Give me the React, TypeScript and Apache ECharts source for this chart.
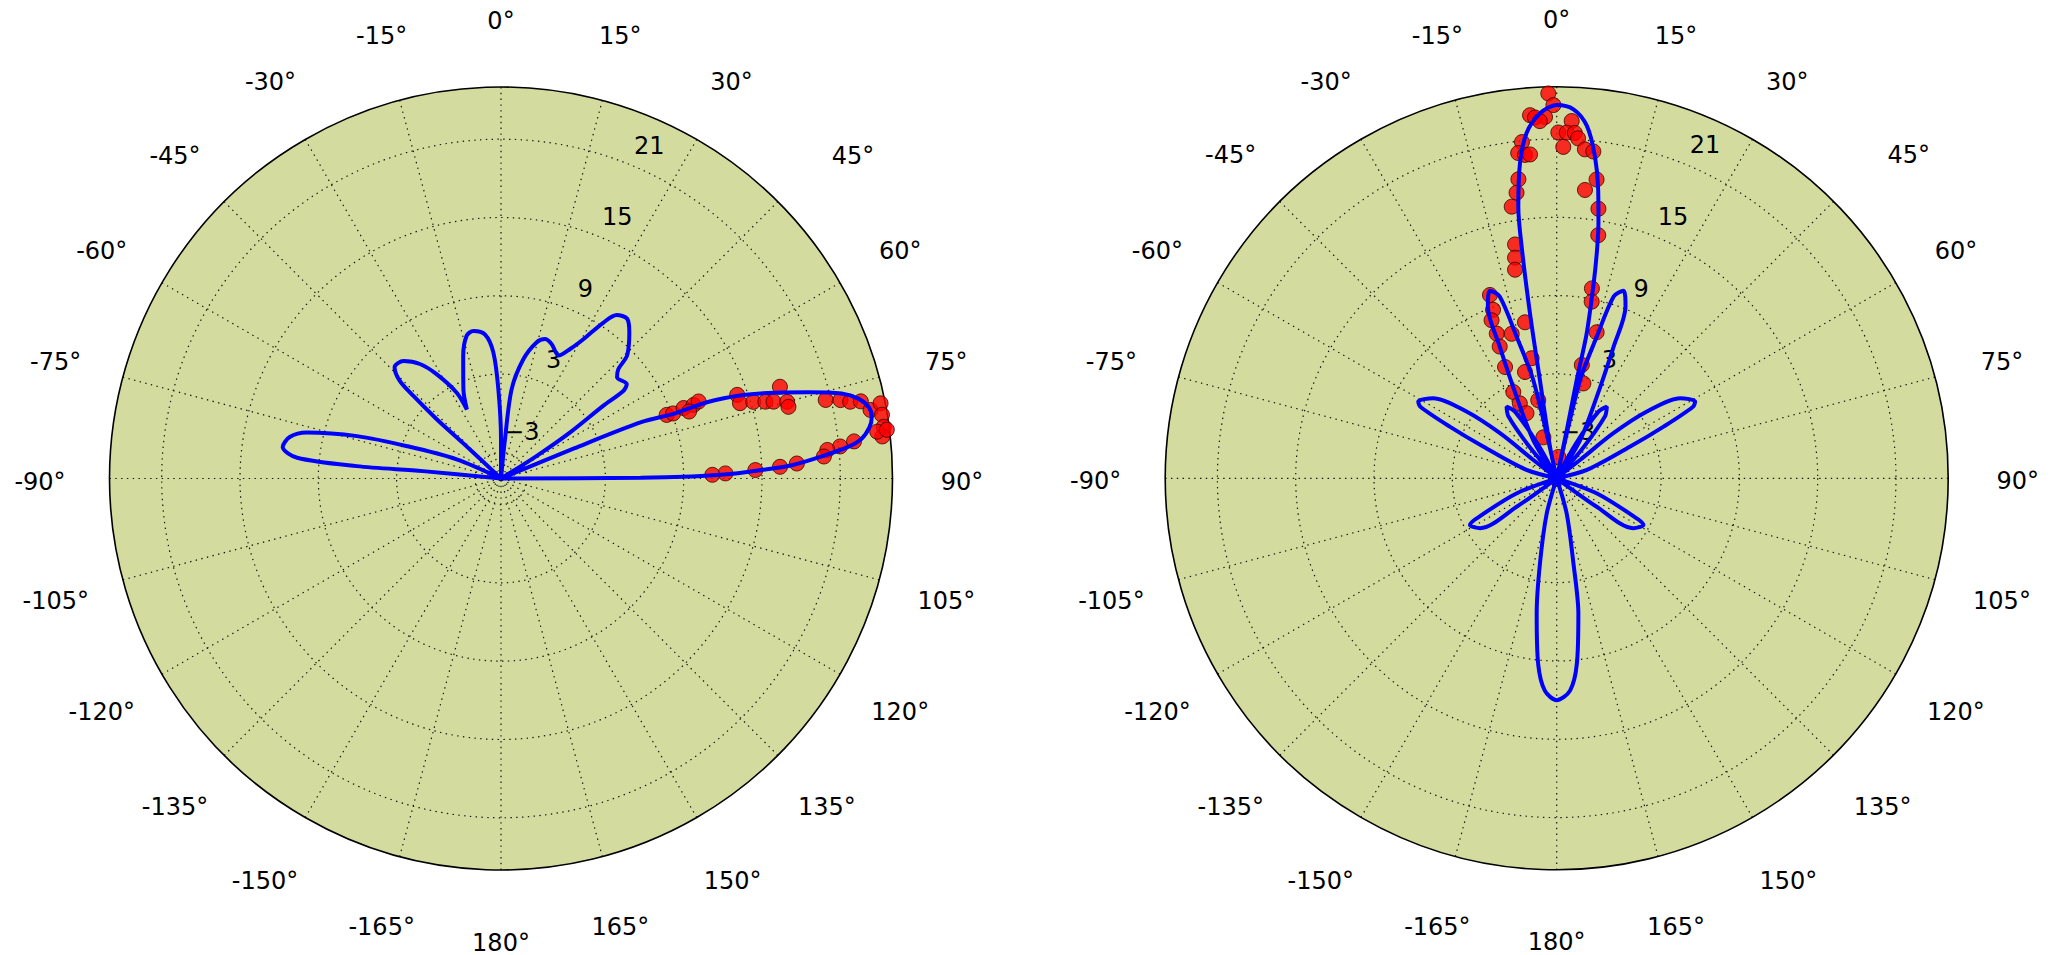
import React, { useEffect, useRef } from "react";
import * as echarts from "echarts";

// Each lobe: [angle in degrees clockwise from north, level], from null to null
const leftLobeWest: [number, number][] = [
  [-90, -5], [-84.6, 1.0], [-85.1, 6.1], [-84.2, 10.7], [-81.8, 11.9], [-78.9, 11.5], [-76.7, 10.3], [-73.6, 6.5], [-71.0, 2.6], [-66.6, -1.3], [-60, -5],
];
const leftLobeNorthWest: [number, number][] = [
  [-60, -5], [-47.0, -1.0], [-47.3, 1.7], [-46.7, 4.25], [-46.0, 5.8], [-43.7, 6.8], [-39.7, 6.7], [-35.3, 5.75], [-31.7, 4.4], [-27.3, 2.4], [-26.3, 0.9],
  [-22.9, 2.4], [-17.1, 4.85], [-13.5, 6.26], [-10.6, 6.5], [-6.3, 6.1], [-3.5, 4.7], [-1.7, 1.85], [0, -2.0], [3, -5],
];
const leftLobeNorthEast: [number, number][] = [
  [3, -5], [5.8, -2.0], [6.8, 1.9], [10.6, 4.3], [14.7, 5.8], [17.5, 6.2], [20.7, 6.0], [25.1, 5.4], [28.1, 6.25], [30.6, 7.4], [33.3, 9.3], [35.3, 10.35], [38.3, 10.6], [41.3, 9.9], [45.7, 8.5], [47.0, 7.3], [48.9, 6.8], [53.1, 7.05], [54.4, 6.55], [54.6, 4.6], [56.3, 1.4], [57.7, -1.75], [62, -5],
];
const leftLobeMain: [number, number][] = [
  [62, -5], [67.6, 1.06], [68.1, 6.58], [69.5, 9.2], [69.7, 11.9], [70.9, 14.5], [72.6, 17.0], [74.3, 19.45], [76.0, 21.9], [77.4, 23.05], [79.0, 23.7], [80.6, 23.8], [82.1, 23.5], [83.7, 22.8], [84.8, 21.7], [85.9, 19.9], [87.4, 17.3], [88.2, 14.7], [89.0, 12.1], [89.4, 9.6], [89.7, 5.7], [90, -5],
];

const leftMeasured: [number, number][] = [
  [69.0, 8.6], [69.3, 9.1], [68.9, 10.0], [69.1, 10.8], [68.7, 11.25], [70.4, 10.3], [70.5, 14.2], [72.5, 14.2], [73.1, 15.2], [73.8, 16.1], [74.25, 16.7], [71.8, 17.5], [75.0, 17.7], [76.0, 17.7], [76.4, 20.6], [77.0, 21.7], [77.6, 22.4], [77.9, 23.2], [79.5, 23.8], [78.8, 24.65], [80.5, 24.6], [82.3, 24.6], [83.7, 24.4], [82.9, 24.05], [82.8, 24.8],
  [84.0, 22.2], [84.6, 21.1], [85.0, 20.1], [86.1, 19.8], [87.1, 17.7], [87.6, 16.4], [88.1, 14.5], [88.7, 12.2], [89.0, 11.2],
];

const rightLobeSouth: [number, number][] = [
  [-150, -5], [-164.2, -2.2], [-168.9, 1.68], [-171.6, 5.5], [-174.3, 9.3], [-176.8, 11.3], [-180, 12.0], [176.4, 11.3], [173.8, 9.3], [170.9, 5.5], [168.9, 1.68], [164.2, -2.2], [150, -5],
];
const rightLobeSW: [number, number][] = [
  [-95, -5], [-110.6, -1.7], [-116.6, 1.86], [-118.3, 2.55], [-123.1, 2.0], [-125.4, -1.2], [-150, -5],
];
const rightLobeWNW: [number, number][] = [
  [-45, -5], [-51.8, -2.7], [-51.5, 0.55], [-53.5, 3.6], [-57, 6.28], [-61, 7.13], [-62.3, 6.8], [-64.2, 4.1], [-66.7, 1.1], [-74.5, -2.6], [-95, -5],
];
const rightLobeNW: [number, number][] = [
  [-45, -5], [-41, -2], [-38, 1.0], [-35, 1.7], [-32, 1.0], [-29, -2], [-30, -5],
];
const rightLobeNNW: [number, number][] = [
  [-30, -5], [-31.6, -1.6], [-26.2, 1.95], [-23.4, 5.97], [-21.8, 9.2], [-19.6, 10.26], [-17.4, 9.6], [-15.8, 6.27], [-13.4, 2.7], [-12, -5],
];
const rightLobeMain: [number, number][] = [
  [-12, -5], [-12, -2.5], [-9.7, 2.63], [-9.2, 7.8], [-8.6, 12.96], [-8.05, 16.0], [-6.65, 19.3], [-5.0, 21.55], [-2.6, 23.0], [0, 23.6], [2.6, 23.3], [4.9, 22.1], [6.8, 19.8], [8.2, 17.3], [9.3, 14.8], [10.1, 12.5], [10.8, 9.95], [11.7, 6.3], [11.5, 2.7], [11.8, -1.24], [12, -5],
];
const rightLobeNNE: [number, number][] = [
  [12, -5], [13.4, 2.7], [15.8, 6.27], [17.4, 9.6], [19.6, 10.26], [21.8, 9.2], [23.4, 5.97], [26.2, 1.95], [31.6, -1.6], [30, -5],
];
const rightLobeNE: [number, number][] = [
  [30, -5], [29, -2], [32, 1.0], [35, 1.7], [38, 1.0], [41, -2], [45, -5],
];
const rightLobeENE: [number, number][] = [
  [45, -5], [51.8, -2.7], [51.5, 0.55], [53.5, 3.6], [57, 6.28], [61, 7.13], [62.3, 6.8], [64.2, 4.1], [66.7, 1.1], [74.5, -2.6], [95, -5],
];
const rightLobeSE: [number, number][] = [
  [95, -5], [110.6, -1.7], [116.6, 1.86], [118.3, 2.55], [123.1, 2.0], [125.4, -1.2], [150, -5],
];

const rightMeasured: [number, number][] = [
  [-1.25, 24.5], [-0.5, 23.6], [-4.2, 22.9], [-3.45, 22.7], [-1.85, 22.7], [-2.7, 22.4], [-5.9, 20.9], [-6.75, 20.1], [-5.6, 19.9], [-4.7, 19.9],
  [2.4, 22.4], [0.27, 21.5], [1.66, 21.5], [3.0, 21.5], [3.6, 21.1], [1.14, 20.4], [4.9, 20.3], [6.4, 20.2], [7.6, 18.1], [5.6, 17.2],
  [-7.3, 18.1], [-8.0, 17.1], [-9.4, 16.1], [8.8, 15.9], [9.7, 13.9], [-10.1, 13.2], [-10.7, 12.2], [-11.3, 11.3], [10.5, 9.8], [11.2, 8.8],
  [15.3, 6.6], [12.5, 3.9], [15.7, 2.55],
  [-20.0, 9.95], [-20.7, 8.8], [-22.4, 8.1], [-22.5, 7.0], [-23.4, 6.0], [-24.9, 4.4], [-17.3, 6.6], [-11.5, 7.2], [-11.8, 4.4], [-16.6, 3.5],
  [-26.7, 2.4], [-26.2, 1.4], [-24.9, 0.5], [-13.3, 1.15], [-18, -1.7], [4.3, -3.36], [0, -5],
];

const leftLobes = [leftLobeWest, leftLobeNorthWest, leftLobeNorthEast, leftLobeMain];
const rightLobes = [rightLobeSouth, rightLobeSW, rightLobeWNW, rightLobeNW, rightLobeNNW, rightLobeMain, rightLobeNNE, rightLobeNE, rightLobeENE, rightLobeSE];

const radialTicks = [-3, 3, 9, 15, 21];
const radialMin = -5;
const radialMax = 25;
const angleMin = -180;
const angleMax = 180;
const angleStep = 15;

const FONT = "DejaVu Sans";
const FONT_SIZE = 24;
const BG = "#d3dc9e";
const centers: [number, number][] = [[501, 478.5], [1556.7, 478.3]];
const RADIUS = 391.5;
const labelShift = 1.92;
const angleLabelMargin = 14;
const angleLabelRadius = 461;
const angleLabelDrop = 3;
// the 45° label sits further out in the original figure
const angleLabelNudgeX: Record<number, number> = { 45: 26 };

const angleText = (v: number) => `${v === -180 ? 180 : v}°`;

export default function App() {
  const ref = useRef<HTMLDivElement>(null);
  useEffect(() => {
    if (!ref.current) return;
    const chart = echarts.init(ref.current, undefined, { renderer: "svg" });

    // per-label padding so that every angle label is centred on one circle
    const ctx = document.createElement("canvas").getContext("2d")!;
    ctx.font = `${FONT_SIZE}px "${FONT}"`;
    const h = FONT_SIZE;
    const Ra = RADIUS + angleLabelMargin;
    const D = angleLabelRadius - Ra;
    const rich: Record<string, any> = {};
    const styleName = (v: number) => "a" + Math.round((v - angleMin) / angleStep);
    for (let v = angleMin; v < angleMax; v += angleStep) {
      const w = ctx.measureText(angleText(v)).width;
      const th = (v * Math.PI) / 180;
      const s = Math.sin(th);
      const c = Math.cos(th);
      const dx = D * s + (angleLabelNudgeX[v] || 0);
      const dy = -D * c + angleLabelDrop;
      const hAlign = (Ra / RADIUS) * Math.abs(s) < 0.3 ? "center" : s > 0 ? "left" : "right";
      const vAlign = (Ra / RADIUS) * Math.abs(c) < 0.3 ? "middle" : c > 0 ? "bottom" : "top";
      let pl = 0, pr = 0, pt = 0, pb = 0;
      if (hAlign === "left") pl = Math.max(0, dx - w / 2);
      else if (hAlign === "right") pr = Math.max(0, -dx - w / 2);
      else if (dx > 0) pl = 2 * dx;
      else pr = -2 * dx;
      if (vAlign === "bottom") pb = Math.max(0, -dy - h / 2);
      else if (vAlign === "top") pt = Math.max(0, dy - h / 2);
      else if (dy > 0) pt = 2 * dy;
      else pb = -2 * dy;
      rich[styleName(v)] = {
        fontSize: FONT_SIZE, fontFamily: FONT, color: "#000",
        padding: [pt, pr, pb, pl],
      };
    }

    const grid = { color: "#111", width: 1.2, type: [1.4, 4.4] as number[] };
    const polar: any[] = [];
    const angleAxis: any[] = [];
    const radiusAxis: any[] = [];
    centers.forEach((c, i) => {
      polar[i] = { center: c, radius: RADIUS };
      angleAxis.push({
        polarIndex: i, type: "value", min: angleMin, max: angleMax, interval: angleStep,
        startAngle: 270, clockwise: true, z: 1,
        axisLine: { show: true, lineStyle: { color: "#000", width: 1.6 } },
        axisTick: { show: false },
        axisLabel: {
          show: true, margin: angleLabelMargin, fontSize: FONT_SIZE, fontFamily: FONT, color: "#000",
          formatter: (v: number) => `{${styleName(v)}|${angleText(v)}}`,
          rich,
        },
        splitLine: { show: true, lineStyle: grid },
        splitArea: { show: false },
      });
      radiusAxis.push({
        polarIndex: i, type: "value", min: radialMin, max: radialMax, z: 1,
        axisLine: { show: false },
        axisTick: { show: false, customValues: radialTicks },
        axisLabel: { show: false, customValues: radialTicks },
        splitLine: { show: true, lineStyle: grid },
        splitArea: { show: false },
      });
    });
    centers.forEach((c, i) => {
      polar[2 + i] = { center: c, radius: RADIUS };
      angleAxis.push({
        polarIndex: 2 + i, type: "value", min: 0, max: 360, interval: 180, startAngle: 90, z: 0,
        axisLine: { show: false }, axisTick: { show: false }, axisLabel: { show: false },
        splitLine: { show: false },
        splitArea: { show: true, areaStyle: { color: [BG] } },
      });
      radiusAxis.push({
        polarIndex: 2 + i, type: "value", min: 0, max: 1, z: 0,
        axisLine: { show: false }, axisTick: { show: false }, axisLabel: { show: false },
        splitLine: { show: false }, splitArea: { show: false },
      });
    });
    centers.forEach((c, i) => {
      polar[4 + i] = { center: c, radius: RADIUS };
      angleAxis.push({
        polarIndex: 4 + i, type: "value", min: 0, max: 360, startAngle: 66, z: 0,
        axisLine: { show: false }, axisTick: { show: false }, axisLabel: { show: false },
        splitLine: { show: false }, splitArea: { show: false },
      });
      radiusAxis.push({
        polarIndex: 4 + i, type: "value",
        min: radialMin - labelShift, max: radialMax - labelShift, z: 1,
        axisLine: { show: false }, axisTick: { show: false },
        splitLine: { show: false }, splitArea: { show: false },
        axisLabel: {
          show: true, customValues: radialTicks, margin: 0, align: "center", verticalAlign: "middle",
          fontSize: FONT_SIZE, fontFamily: FONT, color: "#000",
          formatter: (v: number) => (v < 0 ? "\u2212" + Math.abs(v) : String(v)),
        },
      });
    });

    const joinLobes = (lobes: [number, number][][]) => {
      const out: any[] = [];
      lobes.forEach((lobe, k) => {
        if (k > 0) out.push("-");
        lobe.forEach(([a, r]) => out.push([r, a]));
      });
      return out;
    };
    const lineSeries = (lobes: [number, number][][], idx: number) => ({
      type: "line", coordinateSystem: "polar", polarIndex: idx,
      data: joinLobes(lobes), connectNulls: false,
      showSymbol: false, symbol: "none", silent: true, z: 4, smooth: 0.3,
      lineStyle: { color: "#0000ff", width: 4 },
    });
    const dotSeries = (data: [number, number][], idx: number) => ({
      type: "scatter", coordinateSystem: "polar", polarIndex: idx,
      data: data.map(([a, r]) => [r, a]),
      symbol: "circle", symbolSize: 15, silent: true, z: 3,
      itemStyle: { color: "#ff0000", borderColor: "#3a0000", borderWidth: 1 },
    });

    chart.setOption({
      animation: false,
      backgroundColor: "#ffffff",
      polar, angleAxis, radiusAxis,
      series: [
        dotSeries(leftMeasured, 0), lineSeries(leftLobes, 0),
        dotSeries(rightMeasured, 1), lineSeries(rightLobes, 1),
      ],
    });
    return () => chart.dispose();
  }, []);
  return (
    <div
      ref={ref}
      style={{ position: "fixed", left: 0, top: 0, width: 2050, height: 955, background: "#fff" }}
    />
  );
}
